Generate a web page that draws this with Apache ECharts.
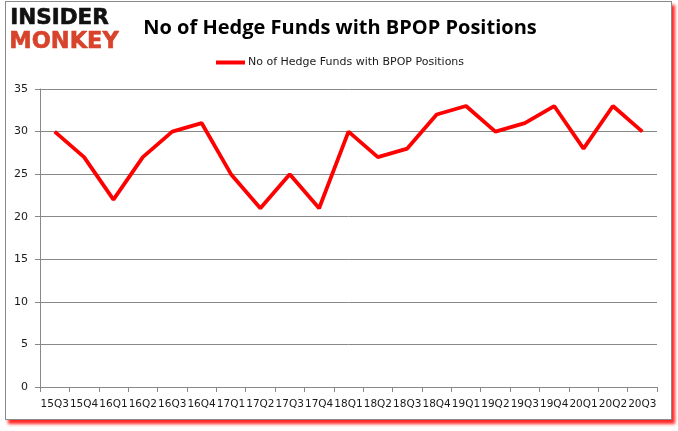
<!DOCTYPE html>
<html>
<head>
<meta charset="utf-8">
<script src="https://cdn.jsdelivr.net/npm/echarts@6/dist/echarts.min.js"></script>
<style>
html,body{margin:0;padding:0;background:#fff;}
#frame{position:absolute;left:5px;top:1px;width:665px;height:417px;border:1px solid #8a8a8a;box-shadow:3px 4px 3px rgba(255,0,0,0.85);background:#fff;}
#chart{position:absolute;left:0;top:0;width:678px;height:431px;}
</style>
</head>
<body>
<div id="frame"></div>
<div id="chart"></div>
<script>
const categories = ['15Q3','15Q4','16Q1','16Q2','16Q3','16Q4','17Q1','17Q2','17Q3','17Q4','18Q1','18Q2','18Q3','18Q4','19Q1','19Q2','19Q3','19Q4','20Q1','20Q2','20Q3'];
const hedgeFunds = [30,27,22,27,30,31,25,21,25,21,30,27,28,32,33,30,31,33,28,33,30];
const seriesName = 'No of Hedge Funds with BPOP Positions';
const titleText = 'No of Hedge Funds with BPOP Positions';

const chart = echarts.init(document.getElementById('chart'), null, {renderer:'canvas'});
chart.setOption({
  backgroundColor: 'transparent',
  animation: false,
  title: {
    text: titleText,
    left: 335, top: 13, textAlign: 'center',
    textStyle: {fontFamily: 'Open Sans', fontWeight: 'bold', fontSize: 20, color: '#000'}
  },
  graphic: [
    {type:'text', left: 10, top: 7, style:{text:'INSIDER', fontFamily:'DejaVu Sans', fontWeight:'900', fontSize: 21.5, fill:'#111', stroke:'#111', lineWidth:0.6}},
    {type:'text', left: 9, top: 30, style:{text:'MONKEY', fontFamily:'DejaVu Sans', fontWeight:'900', fontSize: 22.5, fill:'#d8432b', stroke:'#d8432b', lineWidth:0.6}}
  ],
  legend: {
    data: [seriesName],
    top: 52, left: 211,
    itemWidth: 29, itemHeight: 4, itemGap: 4,
    icon: 'rect',
    textStyle: {fontFamily: 'DejaVu Sans', fontSize: 11, color: '#1a1a1a', padding:[0,0,0,-2]}
  },
  grid: {left: 40, right: 21, top: 89, bottom: 44, containLabel: false},
  xAxis: {
    type: 'category',
    data: categories,
    boundaryGap: true,
    axisLine: {lineStyle: {color: '#888', width: 1}},
    axisTick: {show: true, alignWithLabel: false, length: 5, lineStyle: {color: '#888'}},
    axisLabel: {interval: 0, fontFamily: 'DejaVu Sans', fontSize: 10.5, color: '#1a1a1a', margin: 12}
  },
  yAxis: {
    type: 'value', min: 0, max: 35, interval: 5,
    axisLine: {show: true, lineStyle: {color: '#888'}},
    axisTick: {show: true, length: 5, lineStyle: {color: '#888'}},
    splitLine: {lineStyle: {color: '#888', width: 1}},
    axisLabel: {fontFamily: 'DejaVu Sans', fontSize: 11, color: '#1a1a1a', margin: 12}
  },
  series: [{
    name: seriesName,
    type: 'line',
    data: hedgeFunds,
    symbol: 'none',
    lineStyle: {color: '#ff0000', width: 3.8},
    itemStyle: {color: '#ff0000'}
  }]
});
</script>
</body>
</html>
